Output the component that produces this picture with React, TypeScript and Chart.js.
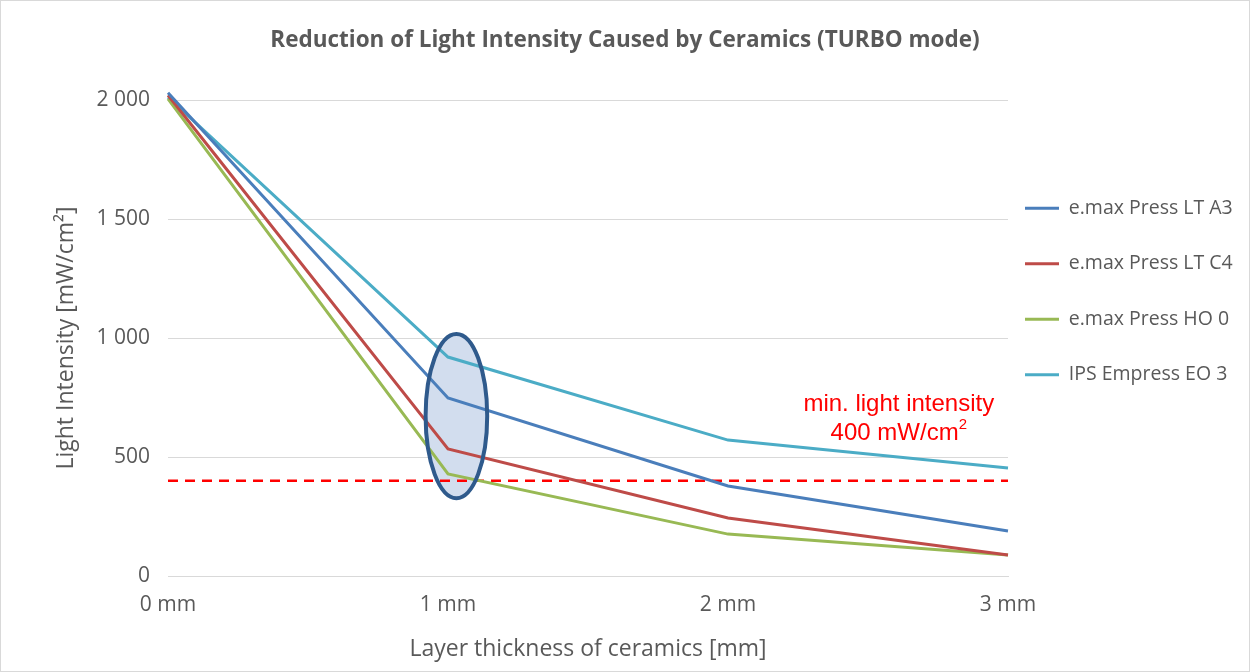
import React, { useEffect, useRef } from "react";
import { Chart, registerables } from "chart.js";

Chart.register(...registerables);

const thicknessLabels = ["0 mm", "1 mm", "2 mm", "3 mm"];
const emaxPressLtA3 = [2030, 748, 378, 189];
const emaxPressLtC4 = [2020, 534, 244, 88];
const emaxPressHo0 = [2005, 429, 176, 88];
const ipsEmpressEo3 = [2012, 920, 571, 454];
const minLightIntensity = [400, 400, 400, 400];
const yTickValues = [0, 500, 1000, 1500, 2000];

const seriesNames = [
  "e.max Press LT A3",
  "e.max Press LT C4",
  "e.max Press HO 0",
  "IPS Empress EO 3",
];
const seriesColors = ["#4A7EBB", "#BE4B48", "#98B954", "#4BACC6"];

// highlight ellipse around 1 mm (data units)
const ellipseCenter = { x: 1.03, y: 672 };
const ellipseRadius = { x: 0.11, y: 345 };
// annotation text anchor (data units)
const noteAnchor = { x: 2.61, y: 723 };

const TEXT_GRAY = "#595959";
const FONT = "'Open Sans', 'DejaVu Sans', sans-serif";
const NOTE_FONT = "'Liberation Sans', Arial, sans-serif";

const fmt = (v: number) => String(v).replace(/\B(?=(\d{3})+(?!\d))/g, " ");

function ellipsePath(chart: any) {
  const { ctx, scales } = chart;
  const xs = scales.x;
  const ys = scales.y;
  const cx = xs.getPixelForValue(ellipseCenter.x);
  const cy = ys.getPixelForValue(ellipseCenter.y);
  const rx = Math.abs(xs.getPixelForValue(ellipseCenter.x + ellipseRadius.x) - cx);
  const ry = Math.abs(ys.getPixelForValue(ellipseCenter.y + ellipseRadius.y) - cy);
  ctx.beginPath();
  ctx.ellipse(cx, cy, rx, ry, 0, 0, Math.PI * 2);
}

const annotationPlugin = {
  id: "annotations",
  afterLayout(chart: any) {
    if (chart.legend) {
      const shift = chart.legend.left - (chart.chartArea.right + 17 - 36);
      chart.legend.left -= shift;
    }
  },
  beforeDatasetsDraw(chart: any) {
    const { ctx } = chart;
    ctx.save();
    ellipsePath(chart);
    ctx.fillStyle = "#D2DDEE";
    ctx.fill();
    ctx.restore();
  },
  afterDatasetsDraw(chart: any) {
    const { ctx, scales } = chart;
    ctx.save();
    ellipsePath(chart);
    ctx.lineWidth = 4;
    ctx.strokeStyle = "#2F5A8C";
    ctx.stroke();

    const tx = scales.x.getPixelForValue(noteAnchor.x);
    const ty = scales.y.getPixelForValue(noteAnchor.y);
    ctx.fillStyle = "#FF0000";
    ctx.textAlign = "center";
    ctx.textBaseline = "middle";
    ctx.font = `24px ${NOTE_FONT}`;
    ctx.fillText("min. light intensity", tx, ty);
    const line2a = "400 mW/cm";
    const w = ctx.measureText(line2a).width;
    ctx.font = `15px ${NOTE_FONT}`;
    const w2 = ctx.measureText("2").width;
    const startX = tx - (w + w2) / 2;
    ctx.textAlign = "left";
    ctx.font = `24px ${NOTE_FONT}`;
    ctx.fillText(line2a, startX, ty + 29);
    ctx.font = `15px ${NOTE_FONT}`;
    ctx.fillText("2", startX + w, ty + 21);
    ctx.restore();
  },
};

export default function App() {
  const canvasRef = useRef<HTMLCanvasElement | null>(null);

  useEffect(() => {
    if (!canvasRef.current) return;
    const seriesData = [emaxPressLtA3, emaxPressLtC4, emaxPressHo0, ipsEmpressEo3];
    const chart = new Chart(canvasRef.current, {
      type: "line",
      data: {
        labels: thicknessLabels,
        datasets: [
          ...seriesData.map((d, i) => ({
            label: seriesNames[i],
            data: d,
            borderColor: seriesColors[i],
            backgroundColor: seriesColors[i],
            borderWidth: 3,
            pointRadius: 0,
            tension: 0,
            clip: false as any,
          })),
          {
            label: "min",
            data: minLightIntensity,
            borderColor: "#FF0000",
            backgroundColor: "#FF0000",
            borderWidth: 2.5,
            borderDash: [10, 7],
            pointRadius: 0,
            tension: 0,
          },
        ],
      },
      options: {
        animation: false,
        responsive: true,
        maintainAspectRatio: false,
        layout: { padding: { top: 27, left: 0, right: 0, bottom: 0 } },
        plugins: {
          title: {
            display: true,
            text: "Reduction of Light Intensity Caused by Ceramics (TURBO mode)",
            color: TEXT_GRAY,
            font: { family: FONT, size: 22.5, weight: "bold" },
            padding: { top: 0, bottom: 46 },
          },
          legend: {
            position: "right",
            align: "start",
            maxWidth: 242,
            title: {
              display: true,
              text: "",
              font: { size: 12 },
              padding: { top: 121, bottom: 0 },
            },
            labels: {
              color: TEXT_GRAY,
              font: { family: FONT, size: 19.5 },
              usePointStyle: true,
              pointStyle: "line",
              pointStyleWidth: 34,
              padding: 36,
              filter: (item: any) => item.text !== "min",
            },
          },
          tooltip: { enabled: false },
        },
        scales: {
          x: {
            offset: false,
            afterFit: (scale: any) => {
              scale.height = 96;
            },
            grid: { display: false, drawTicks: false },
            border: { display: true, color: "#D9D9D9", width: 1 },
            ticks: {
              color: TEXT_GRAY,
              font: { family: FONT, size: 21 },
              padding: 16,
              maxRotation: 0,
            },
            title: {
              display: true,
              text: "Layer thickness of ceramics [mm]",
              color: TEXT_GRAY,
              font: { family: FONT, size: 23 },
              padding: { top: 0, bottom: 9 },
            },
          },
          y: {
            min: 0,
            max: 2000,
            afterFit: (scale: any) => {
              scale.width = 168;
            },
            afterBuildTicks: (scale: any) => {
              scale.ticks = yTickValues.map((v) => ({ value: v }));
            },
            grid: { color: "#D9D9D9", drawTicks: false, lineWidth: 1 },
            border: { display: false },
            ticks: {
              color: TEXT_GRAY,
              font: { family: FONT, size: 21 },
              padding: 18,
              callback: (v: any) => fmt(Number(v)),
            },
            title: {
              display: true,
              text: "Light Intensity [mW/cm²]",
              color: TEXT_GRAY,
              font: { family: FONT, size: 23 },
              padding: { top: 53, bottom: 0 },
            },
          },
        },
      },
      plugins: [annotationPlugin],
    });
    return () => chart.destroy();
  }, []);

  return (
    <div
      style={{
        position: "fixed",
        left: 0,
        top: 0,
        width: 1250,
        height: 672,
        background: "#fff",
      }}
    >
      <canvas ref={canvasRef} />
      <div
        style={{
          position: "absolute",
          inset: 0,
          border: "1px solid #D9D9D9",
          pointerEvents: "none",
        }}
      />
    </div>
  );
}
